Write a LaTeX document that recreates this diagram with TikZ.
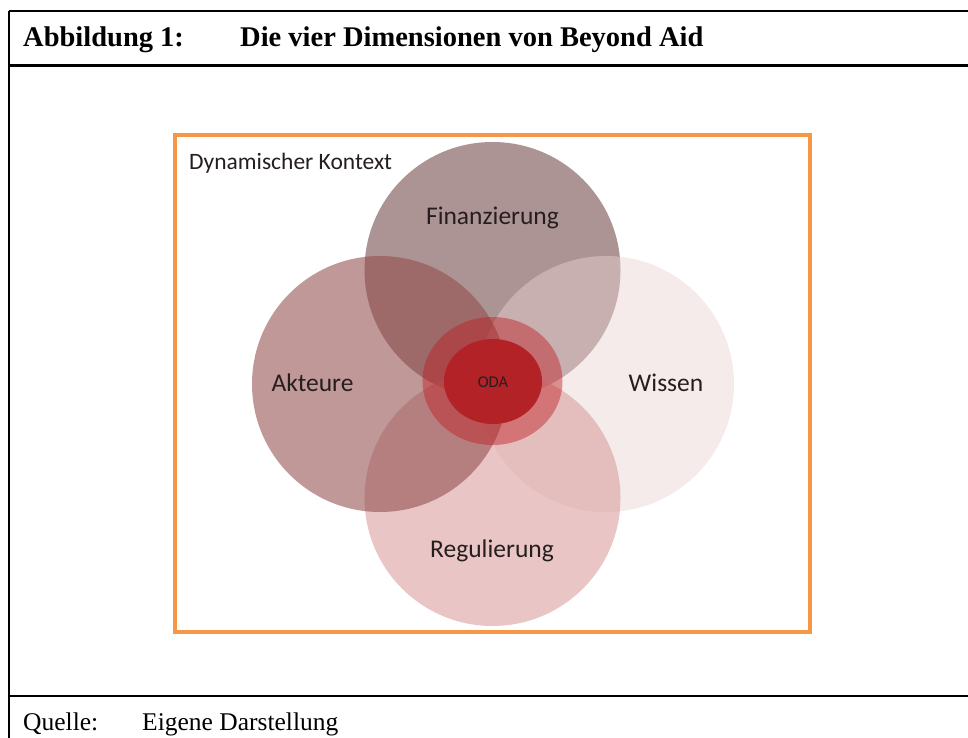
\documentclass[tikz,border=0pt]{standalone}
\usepackage{fontspec}
\setmainfont{Liberation Serif}
\newfontfamily\carl{Carlito}
\definecolor{finC}{RGB}{138,102,102}
\definecolor{wisC}{RGB}{233,211,211}
\definecolor{regC}{RGB}{218,158,158}
\definecolor{aktC}{RGB}{145,74,74}
\definecolor{ringC}{RGB}{190,30,35}
\definecolor{coreC}{RGB}{178,34,38}
\definecolor{frameOrange}{RGB}{247,150,70}
\definecolor{labelC}{RGB}{38,30,30}
\tikzset{
  dimcircle/.style={circle, draw=none, minimum size=256pt, inner sep=0pt},
  dimlabel/.style={anchor=base, inner sep=0pt, text=labelC, font=\carl\fontsize{25.5}{28}\selectfont},
  frameline/.style={line width=2.6pt, black},
  boxtext/.style={anchor=base west, inner sep=0pt}
}
\begin{document}
\begin{tikzpicture}[x=1pt, y=-1pt]
\useasboundingbox (0,0) rectangle (968,738);
% frame
\coordinate (tl) at (9,11);
\coordinate (tr) at (968,11);
\coordinate (hl) at (9,65.5);
\coordinate (hr) at (968,65.5);
\coordinate (fl) at (9,696);
\coordinate (fr) at (968,696);
\coordinate (bl) at (9,738);
\draw[frameline] (tl) -- (tr);
\draw[frameline] (hl) -- (hr);
\draw[frameline] (fl) -- (fr);
\draw[line width=2.2pt] (tl) -- (bl);
\node[boxtext, font=\bfseries\fontsize{28.5}{30}\selectfont] (t1) at (23,47) {Abbildung 1:};
\node[boxtext, font=\bfseries\fontsize{28.5}{30}\selectfont] (t2) at (240,47) {Die vier Dimensionen von Beyond Aid};
\node[boxtext, font=\fontsize{25.5}{28}\selectfont] (q1) at (23,730) {Quelle:};
\node[boxtext, font=\fontsize{25.5}{28}\selectfont] (q2) at (142,730) {Eigene Darstellung};
% orange context box
\draw[frameOrange, line width=3.5pt] (175,135) rectangle (810,632);
\node[anchor=base west, inner sep=0pt, text=labelC, font=\carl\fontsize{23.5}{26}\selectfont] (ctx) at (189,169) {Dynamischer Kontext};
% circles
\node[dimcircle, fill=finC, fill opacity=0.7] (fin) at (492.5,270) {};
\node[dimcircle, fill=wisC, fill opacity=0.45] (wis) at (606,384) {};
\node[dimcircle, fill=regC, fill opacity=0.6] (reg) at (492.5,498) {};
\node[dimcircle, fill=aktC, fill opacity=0.57] (akt) at (380,384) {};
\fill[ringC, fill opacity=0.45] (492.5,381) ellipse [x radius=70pt, y radius=64pt];
\fill[coreC] (493,381.5) ellipse [x radius=49pt, y radius=42.5pt];
% labels
\node[dimlabel] (lfin) at (492.5,224) {Finanzierung};
\node[dimlabel] (lakt) at (312.5,391) {Akteure};
\node[dimlabel] (lwis) at (666,391) {Wissen};
\node[dimlabel] (lreg) at (492,557) {Regulierung};
\node[dimlabel, font=\carl\fontsize{16.5}{18}\selectfont] (loda) at (493,387) {ODA};
\end{tikzpicture}
\end{document}
